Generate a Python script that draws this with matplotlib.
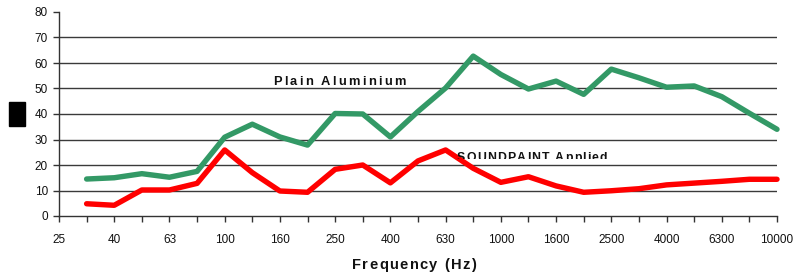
import matplotlib
matplotlib.use("Agg")
import matplotlib.pyplot as plt
from matplotlib.patches import Rectangle
from matplotlib.font_manager import FontProperties
from matplotlib.transforms import Bbox

# ---- data ----
freq_labels = ["25", "31.5", "40", "50", "63", "80", "100", "125", "160", "200",
               "250", "315", "400", "500", "630", "800", "1000", "1250", "1600",
               "2000", "2500", "3150", "4000", "5000", "6300", "8000", "10000"]
plain_aluminium = [14.5, 15.0, 16.6, 15.2, 17.5, 30.9, 36.0, 31.0, 27.8, 40.2, 40.0,
                   31.0, 41.0, 50.2, 62.7, 55.5, 49.8, 52.9, 47.7, 57.6, 54.2,
                   50.5, 51.0, 46.8, 40.3, 34.0]
soundpaint = [4.8, 4.2, 10.2, 10.2, 12.8, 25.9, 17.0, 9.8, 9.3, 18.3, 20.0, 13.0,
              21.6, 25.9, 18.7, 13.2, 15.4, 11.8, 9.3, 9.9, 10.7, 12.2, 12.9,
              13.6, 14.4, 14.4]
series_names = ["Plain Aluminium", "SOUNDPAINT Applied"]
x_title = "Frequency (Hz)"
y_ticks = [0, 10, 20, 30, 40, 50, 60, 70, 80]

W, H = 794, 278
fig = plt.figure(figsize=(W / 100, H / 100), dpi=100)
plt.rcParams["font.family"] = ["Liberation Sans", "DejaVu Sans"]

ax = fig.add_axes([59 / W, 1 - 216 / H, (777 - 59) / W, (216 - 12) / H])

n = len(freq_labels)
xs = list(range(1, n))
green = "#339966"
red = "#ff0000"
ax.plot(xs, plain_aluminium, color=green, lw=3.9, solid_capstyle="round",
        solid_joinstyle="round", zorder=3, clip_on=False)
ax.plot(xs, soundpaint, color=red, lw=3.9, solid_capstyle="round",
        solid_joinstyle="round", zorder=3, clip_on=False)

ax.set_xlim(0, n - 1)
ax.set_ylim(0, 80)
ax.set_yticks(y_ticks)
ax.set_xticks(range(n))
ax.set_xticklabels([lab if i % 2 == 0 else "" for i, lab in enumerate(freq_labels)])

for s in ["top", "right"]:
    ax.spines[s].set_visible(False)
for s in ["left", "bottom"]:
    ax.spines[s].set_color("#333333")
    ax.spines[s].set_linewidth(1.0)

ax.tick_params(axis="both", direction="out", length=4, width=1.0, color="#333333",
               labelsize=8.5, labelcolor="#111111")
ax.tick_params(axis="y", pad=4)
ax.tick_params(axis="x", pad=9)

ax.yaxis.grid(True, color="#3a3a3a", lw=1.0)
gls = ax.get_ygridlines()
gls[-1].set_visible(False)
gls[0].set_visible(False)
ax.set_axisbelow(True)

# black box at left
fig.patches.append(Rectangle((9 / W, 1 - 126 / H), 16 / W, 24 / H,
                             transform=fig.transFigure, color="black"))

fig.canvas.draw()
renderer = fig.canvas.get_renderer()


def spaced_text(x_px, y_px, s, size, spacing, clip_y=None):
    fp = FontProperties(family="Liberation Sans", weight="bold", size=size)
    cur = x_px
    wa, _, _ = renderer.get_text_width_height_descent("aa", fp, ismath=False)
    was, _, _ = renderer.get_text_width_height_descent("a a", fp, ismath=False)
    space_w = was - wa
    for ch in s:
        if ch == " ":
            w = space_w
        else:
            w, _, _ = renderer.get_text_width_height_descent(ch, fp, ismath=False)
            t = fig.text(cur / W, 1 - y_px / H, ch, fontproperties=fp,
                         color="#111111", va="baseline", ha="left")
            if clip_y is not None:
                t.set_clip_box(Bbox.from_extents(0, H - clip_y, W, H))
                t.set_clip_on(True)
        cur += w + spacing


spaced_text(273, 85, series_names[0], 9.3, 2.3)
spaced_text(457, 161, series_names[1], 8.8, 1.2, clip_y=159)
spaced_text(352, 269, x_title, 10.5, 1.4)

fig.savefig("out.png", dpi=100)
